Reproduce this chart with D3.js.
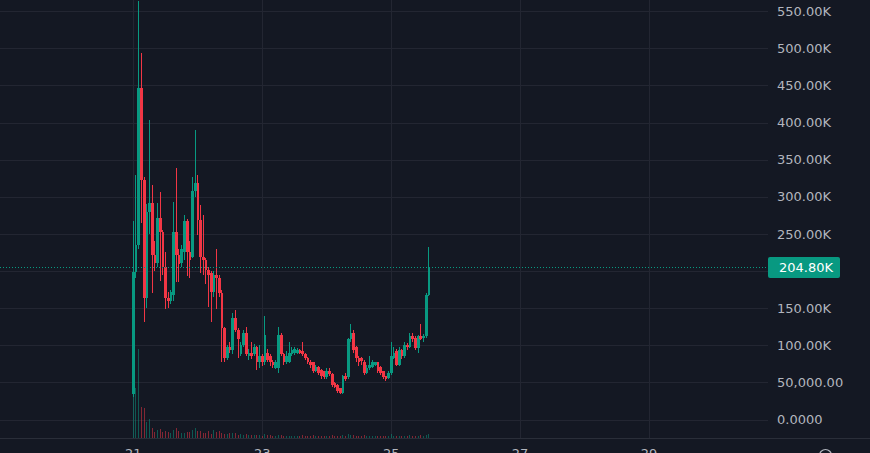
<!DOCTYPE html>
<html>
<head>
<meta charset="utf-8">
<script src="https://cdn.jsdelivr.net/npm/d3@7"></script>
<style>
  html, body { margin: 0; padding: 0; background: #141823; }
  svg { display: block; }
</style>
</head>
<body>
<div id="chart"></div>
<script>
var width = 870,
    height = 453;

// hourly candles from day 21 00:00, prices in thousands
var opens  = [34,199,235,446,323,164,280,291,221,211,271,253,205,164,160,168,252,221,211,225,
              268,225,219,308,319,269,219,215,202,197,172,195,191,171,123,83,98,94,137,121,
              88,101,117,86,90,88,97,77,86,77,90,85,78,70,70,114,88,78,78,88,
              90,90,93,92,88,83,78,77,66,71,67,65,57,66,61,49,47,42,36,58,
              57,108,116,97,83,83,78,63,69,71,73,77,71,65,58,56,63,83,92,74,
              93,85,101,98,112,110,96,112,110,112,168];
var highs  = [268,330,564,494,326,290,404,316,240,291,306,255,226,172,175,293,339,230,235,275,
              270,240,326,390,330,289,275,218,205,200,200,229,195,175,125,100,105,144,147,123,
              104,120,125,95,105,102,99,100,88,140,95,88,80,80,124,116,90,92,104,98,
              97,96,95,104,90,84,80,78,74,72,68,66,70,70,62,50,48,43,60,62,
              110,129,121,99,85,84,80,73,85,80,78,78,72,66,59,65,105,97,95,97,
              95,104,103,116,116,112,114,128,115,170,232];
var lows   = [30,190,230,265,132,150,250,171,200,205,186,195,149,150,155,160,185,185,205,215,
              193,190,217,300,248,197,194,182,152,132,165,149,165,77,77,80,90,88,118,83,
              85,98,85,80,82,85,67,70,72,74,77,72,70,68,63,85,74,75,76,86,
              87,88,88,85,80,75,70,62,64,60,55,54,55,58,44,42,36,34,34,52,
              54,105,90,78,72,73,60,61,67,69,72,63,60,54,52,54,60,82,72,72,
              82,83,93,96,105,94,90,107,104,110,166];
var closes = [199,235,446,323,164,280,291,221,211,271,253,205,164,160,172,252,221,210,229,268,
              225,215,308,319,269,219,215,202,195,172,195,191,171,123,83,98,93,137,121,109,
              100,117,88,90,86,98,77,86,77,114,80,78,74,77,114,88,78,85,90,94,
              95,94,90,88,83,78,74,65,71,63,58,57,65,61,47,44,38,36,58,55,
              108,116,94,83,77,79,63,70,73,77,77,65,63,57,55,63,85,90,74,93,
              85,101,97,112,108,96,112,109,113,168,204.8];
var volumes = [70,50,89,31,30,16,19,10,6,8,9,6,7,6,5,8,10,7,5,5,
               6,6,8,10,7,7,5,5,7,4,8,6,7,5,4,4,5,5,5,3,
               4,3,4,3,3,3,3,3,2,4,3,3,2,2,3,3,2,2,2,2,
               2,2,2,3,2,2,2,3,2,2,2,2,2,2,3,2,2,2,3,2,
               4,3,3,2,2,2,3,2,2,2,2,2,2,2,2,2,4,2,2,2,
               2,2,2,3,2,2,2,3,2,3,4];

var priceTicks  = [0,50,100,150,200,250,300,350,400,450,500,550];
var priceLabels = ["0.0000","50,000.00","100.00K","150.00K","200.00K","250.00K",
                   "300.00K","350.00K","400.00K","450.00K","500.00K","550.00K"];
var dayTicks = [21,23,25,27,29];
var lastPrice = 204.8,
    lastLabel = "204.80K";

var up = "#089981", down = "#f23645",
    gridColor = "#232632", textColor = "#b2b5be";

var plotRight = 768, plotBottom = 438;
var start = Date.UTC(2024, 2, 21);

var x = d3.scaleUtc()
  .domain([new Date(start), new Date(Date.UTC(2024, 2, 29))])
  .range([133.3, 649]);
var y = d3.scaleLinear().domain([0, 550]).range([419.5, 11.2]);
var yVol = d3.scaleLinear().domain([0, 100]).range([437.5, 337.5]);

var candles = closes.map(function(c, i){
  return { t: d3.utcHour.offset(new Date(start), i),
           o: opens[i], h: highs[i], l: lows[i], c: c, v: volumes[i] };
});

var svg = d3.select("#chart")
  .append("svg")
  .attr("width", width)
  .attr("height", height)
  .style("font-family", "'DejaVu Sans', sans-serif");

svg.append("rect")
  .attr("width", width).attr("height", height)
  .attr("fill", "#141823");

// grid
svg.append("g").selectAll("line")
  .data(priceTicks)
  .enter().append("line")
  .attr("x1", 0).attr("x2", plotRight)
  .attr("y1", function(d){ return Math.round(y(d)) + 0.5 })
  .attr("y2", function(d){ return Math.round(y(d)) + 0.5 })
  .attr("stroke", gridColor);

svg.append("g").selectAll("line")
  .data(dayTicks)
  .enter().append("line")
  .attr("x1", function(d){ return Math.round(x(new Date(Date.UTC(2024, 2, d)))) + 0.5 })
  .attr("x2", function(d){ return Math.round(x(new Date(Date.UTC(2024, 2, d)))) + 0.5 })
  .attr("y1", 0).attr("y2", plotBottom)
  .attr("stroke", gridColor);

// volume
svg.append("g").attr("shape-rendering", "crispEdges")
  .selectAll("rect")
  .data(candles)
  .enter().append("rect")
  .attr("x", function(d){ return Math.floor(x(d.t)) })
  .attr("width", 1)
  .attr("y", function(d){ return yVol(d.v) })
  .attr("height", function(d){ return yVol(0) - yVol(d.v) })
  .attr("fill", function(d){ return d.c >= d.o ? "rgba(8,153,129,0.5)" : "rgba(242,54,69,0.5)" });

// candles
var cg = svg.append("g").attr("shape-rendering", "crispEdges");
cg.selectAll(".wick")
  .data(candles)
  .enter().append("rect")
  .attr("class", "wick")
  .attr("x", function(d){ return Math.floor(x(d.t)) })
  .attr("width", 1)
  .attr("y", function(d){ return y(d.h) })
  .attr("height", function(d){ return y(d.l) - y(d.h) })
  .attr("fill", function(d){ return d.c >= d.o ? up : down });

cg.selectAll(".body")
  .data(candles)
  .enter().append("rect")
  .attr("class", "body")
  .attr("x", function(d){ return Math.round(x(d.t) - 1.2) })
  .attr("width", function(d){ return Math.round(x(d.t) + 1.5) - Math.round(x(d.t) - 1.2) })
  .attr("y", function(d){ return y(Math.max(d.o, d.c)) })
  .attr("height", function(d){ return Math.max(1, Math.abs(y(d.o) - y(d.c))) })
  .attr("fill", function(d){ return d.c >= d.o ? up : down });

// last price line
svg.append("line")
  .attr("x1", 0).attr("x2", plotRight)
  .attr("y1", Math.round(y(lastPrice)) + 0.5)
  .attr("y2", Math.round(y(lastPrice)) + 0.5)
  .attr("stroke", up)
  .attr("stroke-dasharray", "1,2");

// bottom axis line
svg.append("line")
  .attr("x1", 0).attr("x2", width)
  .attr("y1", plotBottom + 0.5).attr("y2", plotBottom + 0.5)
  .attr("stroke", "#2a2e39");

// price labels (the one under the last-price tag is hidden, like the original)
svg.append("g").selectAll("text")
  .data(priceTicks.filter(function(d){ return Math.abs(y(d) - y(lastPrice)) > 16 }))
  .enter().append("text")
  .attr("x", 777)
  .attr("y", function(d){ return y(d) })
  .attr("dy", "0.36em")
  .attr("font-size", 13)
  .attr("fill", textColor)
  .text(function(d){ return priceLabels[priceTicks.indexOf(d)] });

svg.append("rect")
  .attr("x", 768).attr("y", Math.round(y(lastPrice)) - 10)
  .attr("width", 72).attr("height", 21)
  .attr("rx", 2)
  .attr("fill", up);
svg.append("text")
  .attr("x", 779).attr("y", y(lastPrice))
  .attr("dy", "0.36em")
  .attr("font-size", 13)
  .attr("fill", "#ffffff")
  .text(lastLabel);

// day labels
svg.append("g").selectAll("text")
  .data(dayTicks)
  .enter().append("text")
  .attr("x", function(d){ return x(new Date(Date.UTC(2024, 2, d))) })
  .attr("y", 458)
  .attr("text-anchor", "middle")
  .attr("font-size", 13)
  .attr("fill", textColor)
  .text(function(d){ return d });

// settings icon, mostly cut off
svg.append("circle")
  .attr("cx", 825.5).attr("cy", 455.5).attr("r", 6)
  .attr("fill", "none")
  .attr("stroke", textColor)
  .attr("stroke-width", 1.2);
</script>
</body>
</html>
